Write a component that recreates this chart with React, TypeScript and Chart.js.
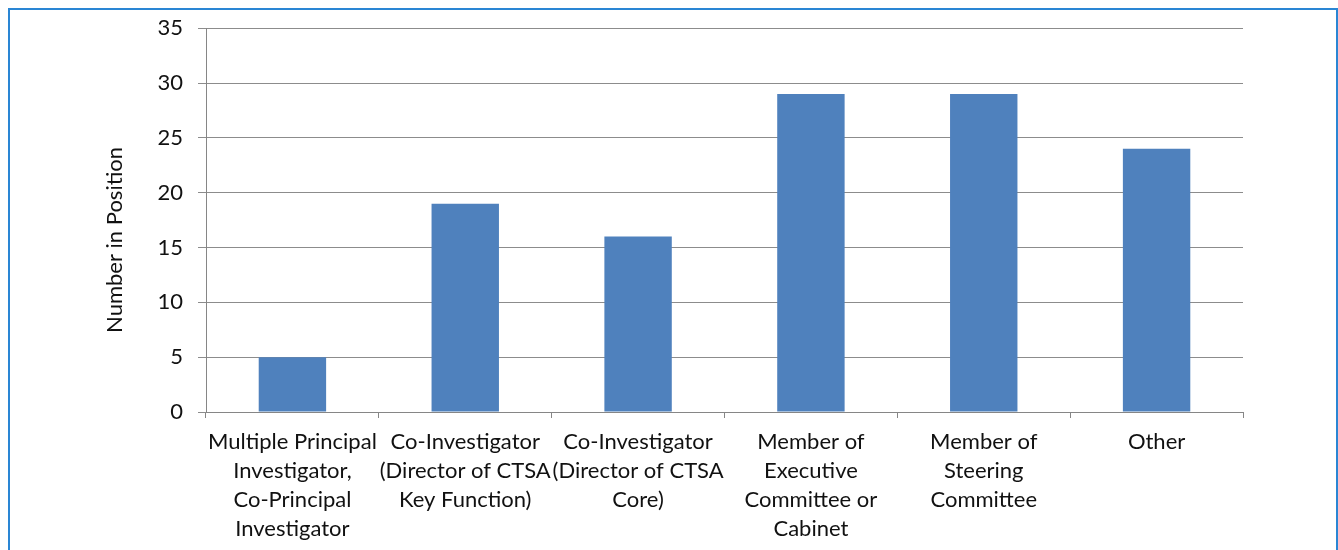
import React, { useEffect, useRef } from "react";
import { Chart, registerables } from "chart.js";

Chart.register(...registerables);

const categories: string[][] = [
  ["Multiple Principal", "Investigator,", "Co-Principal", "Investigator"],
  ["Co-Investigator", "(Director of CTSA", "Key Function)"],
  ["Co-Investigator", "(Director of CTSA", "Core)"],
  ["Member of", "Executive", "Committee or", "Cabinet"],
  ["Member of", "Steering", "Committee"],
  ["Other"],
];
const values: number[] = [5, 19, 16, 29, 29, 24];
const yTitle = "Number in Position";

const FAMILY = "Lato, 'Open Sans', sans-serif";

const yTitlePlugin = {
  id: "yTitlePlugin",
  afterDraw(chart: any) {
    const c = chart.ctx;
    c.save();
    c.translate(115, 240);
    c.rotate(-Math.PI / 2);
    c.font = `22px ${FAMILY}`;
    c.fillStyle = "#111111";
    c.textAlign = "center";
    c.textBaseline = "middle";
    c.fillText(yTitle, 0, 0);
    c.restore();
  },
};

export default function App() {
  const ref = useRef<HTMLCanvasElement | null>(null);
  useEffect(() => {
    document.body.style.margin = "0";
    const ctx = ref.current!;
    const font = { family: FAMILY, size: 22 };
    const chart = new Chart(ctx, {
      type: "bar",
      data: {
        labels: categories,
        datasets: [
          {
            data: values,
            backgroundColor: "#4f81bd",
            borderWidth: 0,
            barPercentage: 0.39,
            categoryPercentage: 1,
          },
        ],
      },
      plugins: [yTitlePlugin],
      options: {
        animation: false,
        responsive: false,
        maintainAspectRatio: false,
        layout: { padding: { top: 27, right: 95, left: 0, bottom: 0 } },
        plugins: { legend: { display: false }, tooltip: { enabled: false } },
        scales: {
          x: {
            offset: true,
            grid: {
              offset: true,
              drawOnChartArea: false,
              drawTicks: true,
              tickLength: 6,
              color: "#868686",
            },
            border: { color: "#868686", width: 1 },
            ticks: {
              color: "#111111",
              font: { ...font, lineHeight: 29 / 22 },
              padding: 9,
              maxRotation: 0,
              autoSkip: false,
            },
            afterFit: (s: any) => {
              s.height = 138;
            },
          },
          y: {
            min: 0,
            max: 35,
            ticks: {
              stepSize: 5,
              color: "#111111",
              font,
              padding: 15,
            },
            grid: { color: "#8c8c8c", tickLength: 8, lineWidth: 1 },
            border: { color: "#868686", width: 1 },
            afterFit: (s: any) => {
              s.width = 206;
            },
          },
        },
      },
    });
    return () => chart.destroy();
  }, []);
  return (
    <div
      style={{
        position: "absolute",
        left: 0,
        top: 0,
        width: 1338,
        height: 550,
        overflow: "hidden",
        background: "#ffffff",
      }}
    >
      <div
        style={{
          position: "absolute",
          left: 8,
          top: 8,
          width: 1326,
          height: 600,
          border: "2px solid #2a86d4",
          boxSizing: "content-box",
        }}
      />
      <canvas
        ref={ref}
        width={1338}
        height={550}
        style={{ position: "absolute", left: 0, top: 0, width: 1338, height: 550 }}
      />
    </div>
  );
}
